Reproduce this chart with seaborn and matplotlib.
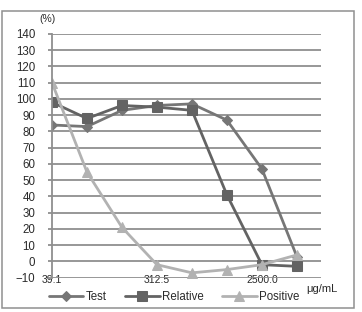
import matplotlib
matplotlib.use("Agg")
import matplotlib.pyplot as plt
import pandas as pd
import seaborn as sns
from matplotlib.patches import Rectangle

sns.set_theme(style="white")
plt.rcParams["font.family"] = ["Liberation Sans", "DejaVu Sans"]

concentrations = ["39.1", "78.1", "156.3", "312.5", "625.0", "1250.0", "2500.0", "5000.0"]
test = [84, 83, 93, 96, 97, 87, 57, 3]
relative = [98, 88, 96, 95, 93, 41, -2, -3]
positive = [110, 55, 21, -2, -7, -5, -2, 4]

series = {"Test": test, "Relative": relative, "Positive": positive}
colors = {"Test": "#767676", "Relative": "#636363", "Positive": "#b2b2b2"}
markers = {"Test": "D", "Relative": "s", "Positive": "^"}
msizes = {"Test": 5, "Relative": 7.5, "Positive": 7}

rows = []
for name, vals in series.items():
    for i, v in enumerate(vals):
        rows.append({"pos": i, "value": v, "series": name})
df = pd.DataFrame(rows)

fig = plt.figure(figsize=(3.62, 3.12), dpi=100)
ax = fig.add_axes([52 / 362, 1 - 277.7 / 312, (321 - 52) / 362, (277.7 - 34) / 312])

# outer chart border
fig.patches.append(Rectangle((2 / 362, 1 - 308 / 312), 352 / 362, 297 / 312,
                             transform=fig.transFigure, fill=False,
                             edgecolor="#8f8f8f", linewidth=1.1))

for name in series:
    sub = df[df["series"] == name]
    sns.lineplot(data=sub, x="pos", y="value", ax=ax, color=colors[name],
                 marker=markers[name], markersize=msizes[name],
                 markeredgecolor=colors[name], linewidth=2.0, label=name)

ax.set_ylim(-10, 140)
ax.set_xlim(0, 7.69)
ax.set_yticks(range(-10, 141, 10))
ax.set_xticks([0, 3, 6])
ax.set_xticklabels([concentrations[0], concentrations[3], concentrations[6]])
ax.yaxis.grid(True, color="#8f8f8f", linewidth=1.3)
ax.set_axisbelow(True)
for s in ["top", "right", "bottom"]:
    ax.spines[s].set_visible(False)
ax.spines["left"].set_color("#8f8f8f")
ax.spines["left"].set_linewidth(1.3)
ax.tick_params(axis="y", length=3, width=1.3, color="#8f8f8f", pad=9,
               labelsize=8.3, labelcolor="#2a2a2a", left=True)
ax.tick_params(axis="x", length=0, pad=-2, labelsize=7.5, labelcolor="#2a2a2a")
ax.set_xlabel("")
ax.set_ylabel("")

fig.text(48 / 362, 1 - 19 / 312, "(%)", fontsize=7.5, color="#2a2a2a", ha="center", va="center")
fig.text(322 / 362, 1 - 289 / 312, "μg/mL", fontsize=8, color="#2a2a2a", ha="center", va="center")

ax.get_legend().remove()
handles, labels = ax.get_legend_handles_labels()
fig.legend(handles, labels, loc="center", bbox_to_anchor=(174 / 362, 1 - 297 / 312),
           ncol=3, frameon=False, fontsize=8.3, handlelength=3.0, columnspacing=1.6,
           handletextpad=0.2, labelcolor="#2a2a2a")

fig.savefig("out.png", dpi=100)
